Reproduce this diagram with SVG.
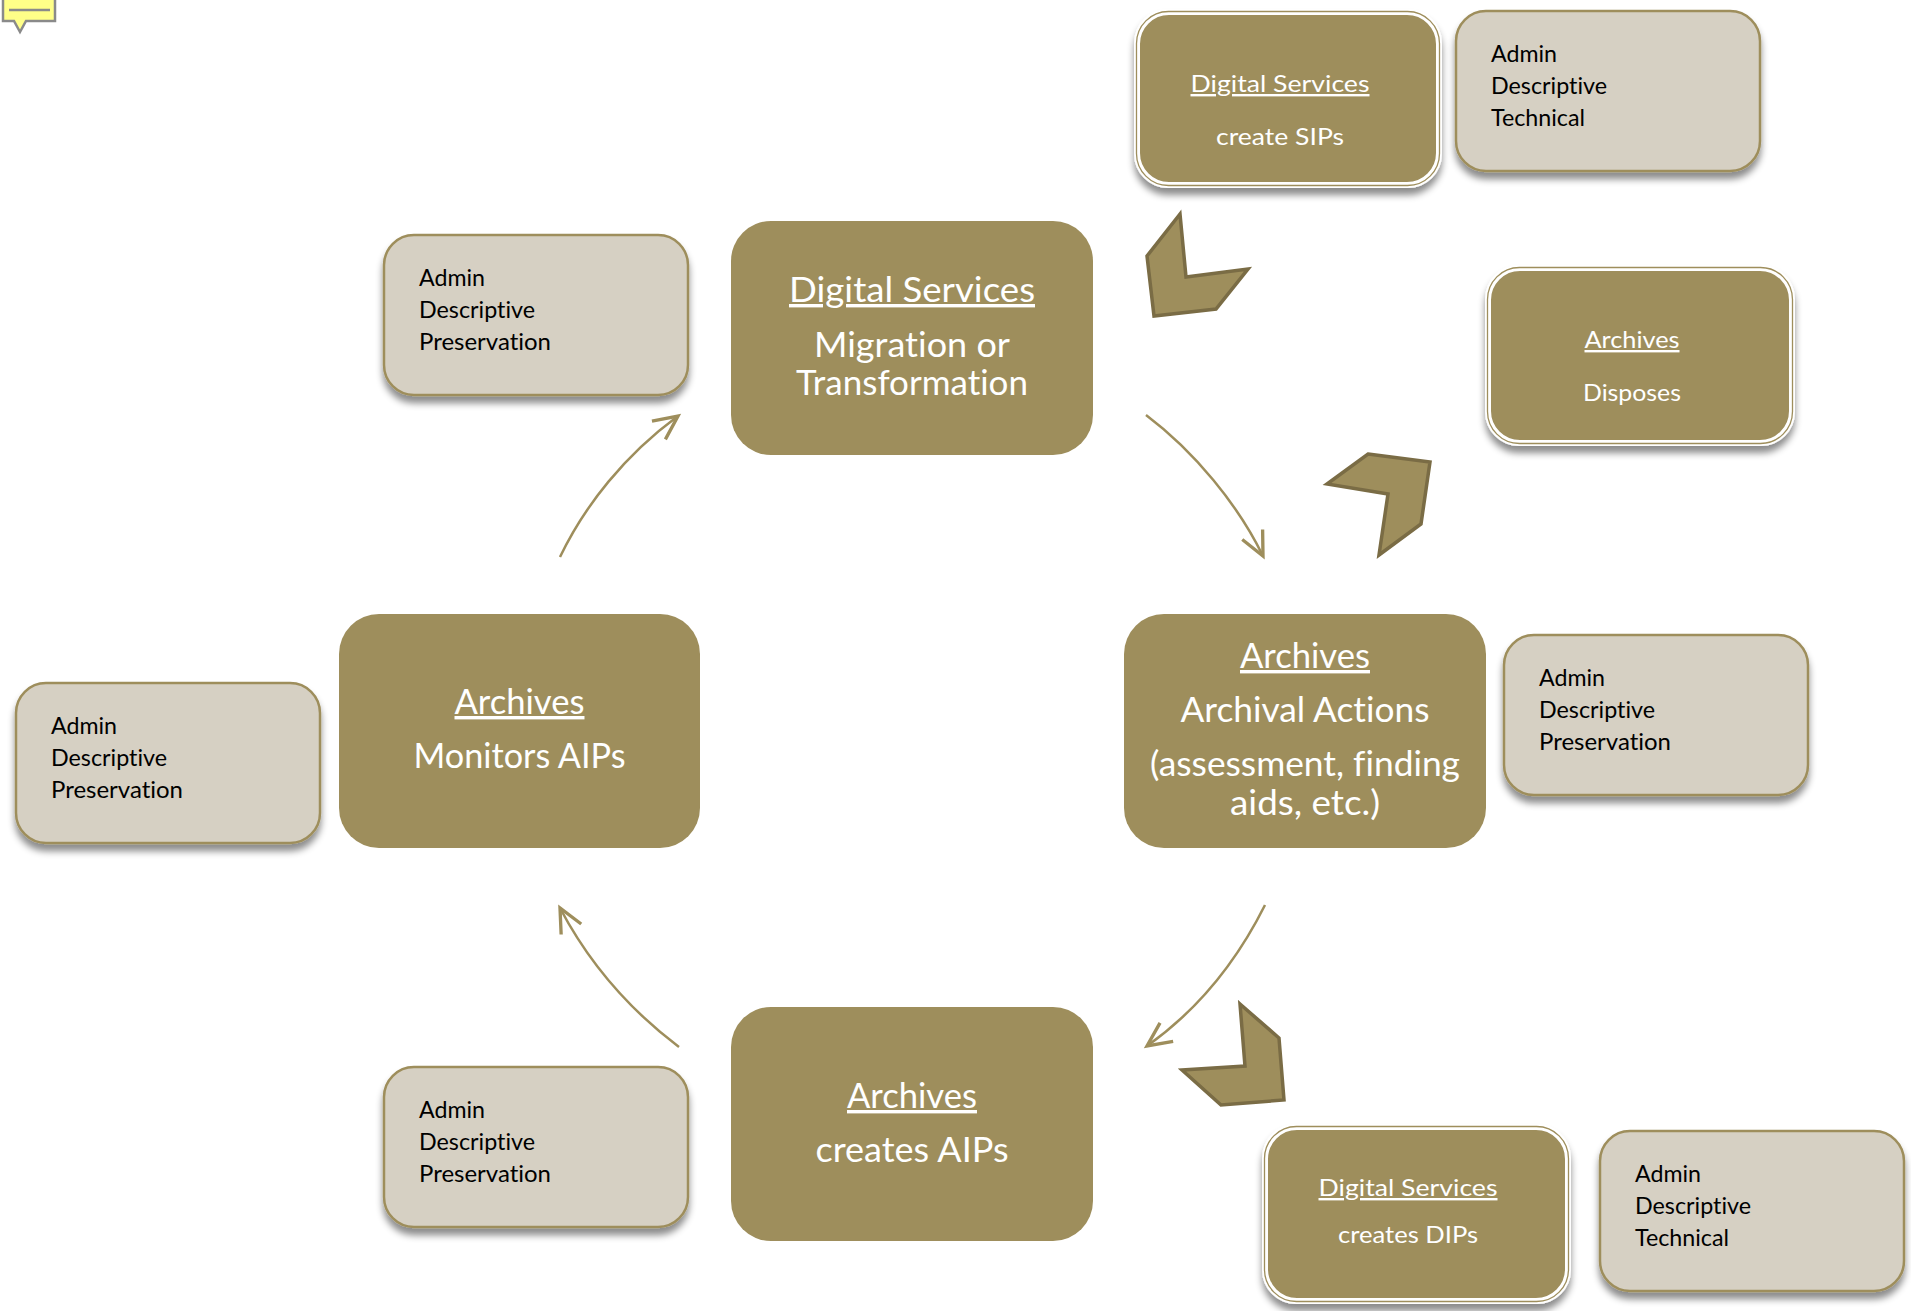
<svg xmlns="http://www.w3.org/2000/svg" width="1911" height="1311" viewBox="0 0 1911 1311">
<style>
text{font-family:"Lato","Liberation Sans",sans-serif;font-variant-ligatures:none}
.main{fill:#9e8e5c}
.lt{fill:#d6d0c3;stroke:#9e8e5c;stroke-width:2.5;filter:url(#sh)}
.fo{fill:#fff;filter:url(#sh)}
.fm{fill:none;stroke:#9e8e5c;stroke-width:1.3}
.fi{fill:#9e8e5c;stroke:#fff;stroke-width:2}
.big{font-size:34px;fill:#fff;text-anchor:middle}
.sm{font-size:24px;fill:#fff;text-anchor:middle}
.bl{font-size:23px;fill:#000}
.u{text-decoration:underline}
.chev{fill:#9e8e5c;stroke:#7a6c45;stroke-width:3.5}
.conn{fill:none;stroke:#9e8e5c;stroke-width:2.5;marker-end:url(#ah)}
</style>
<defs>
<filter id="sh" x="-10%" y="-10%" width="120%" height="125%"><feDropShadow dx="0" dy="7" stdDeviation="3.5" flood-color="#000" flood-opacity="0.45"/></filter>
<marker id="ah" markerUnits="userSpaceOnUse" markerWidth="40" markerHeight="40" refX="24" refY="15" orient="auto" viewBox="0 0 30 30"><path d="M6 6.5L24 15L6 23.5" fill="none" stroke="#9e8e5c" stroke-width="2.5"/></marker>
</defs>
<g id="comment"><path d="M3 -4V21H14L20 32L26 21H55V-4Z" fill="#ffff88" stroke="#8a8a8a" stroke-width="2.5"/><path d="M9 10H50" stroke="#8a8a8a" stroke-width="2.5"/></g>
<g id="connectors">
<path class="conn" d="M1146 415C1195 452 1238 505 1263 556"/>
<path class="conn" d="M1265 905C1235 965 1195 1012 1147 1046"/>
<path class="conn" d="M679 1047C630 1010 590 965 560 908"/>
<path class="conn" d="M560 557C585 505 625 455 678 416"/>
</g>
<g id="chevrons">
<polygon class="chev" points="1180,214 1147,256 1154,316 1216,309 1248,269 1186,277"/>
<polygon class="chev" points="1368,454 1430,462 1421,524 1379,555 1388,494 1327,484"/>
<polygon class="chev" points="1240,1004 1279,1038 1284,1100 1221,1105 1182,1070 1245,1066"/>
</g>
<g id="node-digital-migration"><rect class="main" x="731" y="221" width="362" height="234" rx="40"/>
<text class="big u" x="912" y="302" textLength="246" lengthAdjust="spacingAndGlyphs">Digital Services</text>
<text class="big" x="912" y="357" textLength="196" lengthAdjust="spacingAndGlyphs">Migration or</text>
<text class="big" x="912" y="395" textLength="232" lengthAdjust="spacingAndGlyphs">Transformation</text></g>
<g id="node-archives-actions"><rect class="main" x="1124" y="614" width="362" height="234" rx="40"/>
<text class="big u" x="1305" y="668" textLength="130" lengthAdjust="spacingAndGlyphs">Archives</text>
<text class="big" x="1305" y="722" textLength="249" lengthAdjust="spacingAndGlyphs">Archival Actions</text>
<text class="big" x="1305" y="776" textLength="310" lengthAdjust="spacingAndGlyphs">(assessment, finding</text>
<text class="big" x="1305" y="815" textLength="150" lengthAdjust="spacingAndGlyphs">aids, etc.)</text></g>
<g id="node-archives-monitors"><rect class="main" x="339" y="614" width="361" height="234" rx="40"/>
<text class="big u" x="519.5" y="714" textLength="130" lengthAdjust="spacingAndGlyphs">Archives</text>
<text class="big" x="519.5" y="768" textLength="212" lengthAdjust="spacingAndGlyphs">Monitors AIPs</text></g>
<g id="node-archives-creates"><rect class="main" x="731" y="1007" width="362" height="234" rx="40"/>
<text class="big u" x="912" y="1108" textLength="130" lengthAdjust="spacingAndGlyphs">Archives</text>
<text class="big" x="912" y="1162" textLength="193" lengthAdjust="spacingAndGlyphs">creates AIPs</text></g>
<g id="note-top-right"><rect class="lt" x="1456" y="11" width="304" height="160" rx="30"/>
<text class="bl" x="1491" y="62" textLength="66" lengthAdjust="spacingAndGlyphs">Admin</text><text class="bl" x="1491" y="94" textLength="116" lengthAdjust="spacingAndGlyphs">Descriptive</text><text class="bl" x="1491" y="126" textLength="94" lengthAdjust="spacingAndGlyphs">Technical</text></g>
<g id="note-top-left"><rect class="lt" x="384" y="235" width="304" height="160" rx="30"/>
<text class="bl" x="419" y="286" textLength="66" lengthAdjust="spacingAndGlyphs">Admin</text><text class="bl" x="419" y="318" textLength="116" lengthAdjust="spacingAndGlyphs">Descriptive</text><text class="bl" x="419" y="350" textLength="132" lengthAdjust="spacingAndGlyphs">Preservation</text></g>
<g id="note-right"><rect class="lt" x="1504" y="635" width="304" height="160" rx="30"/>
<text class="bl" x="1539" y="686" textLength="66" lengthAdjust="spacingAndGlyphs">Admin</text><text class="bl" x="1539" y="718" textLength="116" lengthAdjust="spacingAndGlyphs">Descriptive</text><text class="bl" x="1539" y="750" textLength="132" lengthAdjust="spacingAndGlyphs">Preservation</text></g>
<g id="note-left"><rect class="lt" x="16" y="683" width="304" height="160" rx="30"/>
<text class="bl" x="51" y="734" textLength="66" lengthAdjust="spacingAndGlyphs">Admin</text><text class="bl" x="51" y="766" textLength="116" lengthAdjust="spacingAndGlyphs">Descriptive</text><text class="bl" x="51" y="798" textLength="132" lengthAdjust="spacingAndGlyphs">Preservation</text></g>
<g id="note-bottom-left"><rect class="lt" x="384" y="1067" width="304" height="160" rx="30"/>
<text class="bl" x="419" y="1118" textLength="66" lengthAdjust="spacingAndGlyphs">Admin</text><text class="bl" x="419" y="1150" textLength="116" lengthAdjust="spacingAndGlyphs">Descriptive</text><text class="bl" x="419" y="1182" textLength="132" lengthAdjust="spacingAndGlyphs">Preservation</text></g>
<g id="note-bottom-right"><rect class="lt" x="1600" y="1131" width="304" height="160" rx="30"/>
<text class="bl" x="1635" y="1182" textLength="66" lengthAdjust="spacingAndGlyphs">Admin</text><text class="bl" x="1635" y="1214" textLength="116" lengthAdjust="spacingAndGlyphs">Descriptive</text><text class="bl" x="1635" y="1246" textLength="94" lengthAdjust="spacingAndGlyphs">Technical</text></g>
<g id="node-create-sips"><rect class="fo" x="1134" y="9" width="308" height="179" rx="34"/><rect class="fm" x="1136.5" y="11.5" width="303" height="174" rx="32"/><rect class="fi" x="1139" y="14" width="298" height="169" rx="30"/>
<text class="sm u" x="1280" y="92" textLength="179" lengthAdjust="spacingAndGlyphs">Digital Services</text>
<text class="sm" x="1280" y="145" textLength="128" lengthAdjust="spacingAndGlyphs">create SIPs</text></g>
<g id="node-disposes"><rect class="fo" x="1485" y="265" width="310" height="181" rx="34"/><rect class="fm" x="1487.5" y="267.5" width="305" height="176" rx="32"/><rect class="fi" x="1490" y="270" width="300" height="171" rx="30"/>
<text class="sm u" x="1632" y="348" textLength="95" lengthAdjust="spacingAndGlyphs">Archives</text>
<text class="sm" x="1632" y="401" textLength="98" lengthAdjust="spacingAndGlyphs">Disposes</text></g>
<g id="node-creates-dips"><rect class="fo" x="1262" y="1124" width="309" height="180" rx="34"/><rect class="fm" x="1264.5" y="1126.5" width="304" height="175" rx="32"/><rect class="fi" x="1267" y="1129" width="299" height="170" rx="30"/>
<text class="sm u" x="1408" y="1196" textLength="179" lengthAdjust="spacingAndGlyphs">Digital Services</text>
<text class="sm" x="1408" y="1243" textLength="140" lengthAdjust="spacingAndGlyphs">creates DIPs</text></g>
</svg>
